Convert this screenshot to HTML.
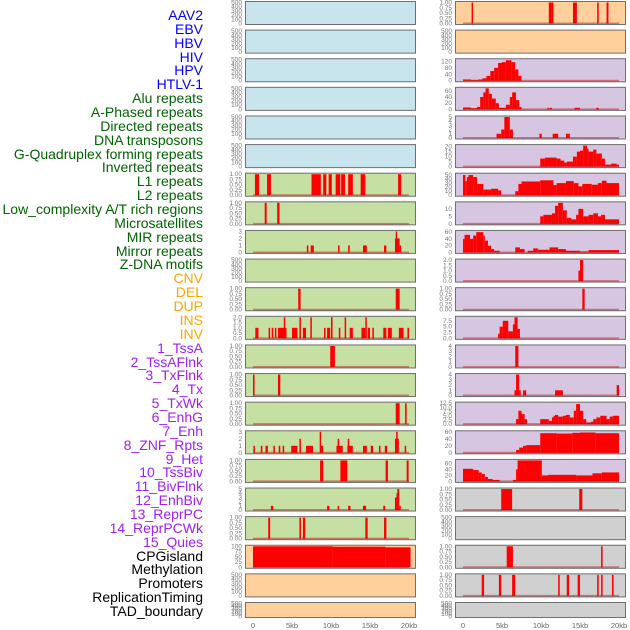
<!DOCTYPE html>
<html><head><meta charset="utf-8"><style>
html,body{margin:0;padding:0;background:#fff;width:630px;height:630px;overflow:hidden}
#labels div{position:absolute;right:427px;font-family:"Liberation Sans",sans-serif;font-size:14px;line-height:14px;white-space:nowrap}
svg{position:absolute;left:0;top:0}
</style></head><body>
<div id="labels"></div>
<svg id="chart" width="630" height="630"></svg>
<script>
const trackNames=["AAV2","EBV","HBV","HIV","HPV","HTLV-1","Alu repeats","A-Phased repeats","Directed repeats","DNA transposons","G-Quadruplex forming repeats","Inverted repeats","L1 repeats","L2 repeats","Low_complexity A/T rich regions","Microsatellites","MIR repeats","Mirror repeats","Z-DNA motifs","CNV","DEL","DUP","INS","INV","1_TssA","2_TssAFlnk","3_TxFlnk","4_Tx","5_TxWk","6_EnhG","7_Enh","8_ZNF_Rpts","9_Het","10_TssBiv","11_BivFlnk","12_EnhBiv","13_ReprPC","14_ReprPCWk","15_Quies","CPGisland","Methylation","Promoters","ReplicationTiming","TAD_boundary"];
const trackGroups=[6,13,5,15,5];
const groupColors=["#0000ff","#006400","#ffa500","#a020f0","#000000"];
const xTicks=["0","5kb","10kb","15kb","20kb"];
const xTickVals=[0,5,10,15,20];
const E5=["0","100","200","300","400","500"];
const P1=["0.00","0.25","0.50","0.75","1.00"];
const leftBg=["#c8e4ec","#c8e4ec","#c8e4ec","#c8e4ec","#c8e4ec","#c8e4ec","#c6e0a4","#c6e0a4","#c6e0a4","#c6e0a4","#c6e0a4","#c6e0a4","#c6e0a4","#c6e0a4","#c6e0a4","#c6e0a4","#c6e0a4","#c6e0a4","#c6e0a4","#ffd09c","#ffd09c","#ffd09c"];
const rightBg=["#ffd09c","#ffd09c","#d6c6e2","#d6c6e2","#d6c6e2","#d6c6e2","#d6c6e2","#d6c6e2","#d6c6e2","#d6c6e2","#d6c6e2","#d6c6e2","#d6c6e2","#d6c6e2","#d6c6e2","#d6c6e2","#d6c6e2","#d0d0d0","#d0d0d0","#d0d0d0","#d0d0d0","#d0d0d0"];
const leftMax=[500,500,500,500,500,500,1,1,3,500,1,2,1,1,1,3,1,5,1,100,500,500];
const rightMax=[1,500,130,68,5,21,52,14,62,2,1,9,4,4,12.5,60,70,1,500,1,1,500];
const leftTicks=[E5,E5,E5,E5,E5,E5,P1,P1,["0","1","2","3"],E5,P1,["0.0","0.5","1.0","1.5","2.0"],P1,P1,P1,["0","1","2","3"],P1,["0","1","2","3","4","5"],P1,["0","25","50","75","100"],E5,E5];
const rightTicks=[P1,E5,["0","40","80","120"],["0","20","40","60"],["0","1","2","3","4","5"],["0","5","10","15","20"],["0","10","20","30","40","50"],["0","5","10"],["0","20","40","60"],["0.0","0.5","1.0","1.5","2.0"],P1,["0.0","2.5","5.0","7.5"],["0","1","2","3","4"],["0","1","2","3","4"],["0.0","2.5","5.0","7.5","10.0","12.5"],["0","20","40","60"],["0","20","40","60"],P1,E5,P1,P1,E5];
const leftBars=[null,null,null,null,null,null,
[[0.25,0.77,1],[1.8,2.3,1],[7.5,8.7,1],[9,9.4,1],[9.7,10.1,1],[10.6,11.2,1],[11.3,11.8,1],[12.2,12.8,1],[13.8,14.4,1],[18.6,19,1]],
[[1.5,1.75,1],[3.1,3.4,1]],
[[6.9,7.1,1],[7.4,7.8,1],[10.9,11.1,1],[12.2,12.4,1],[14.1,14.6,1],[16.8,17.1,1],[18.2,18.8,2],[18.3,18.45,3],[18.8,18.95,1]],
null,
[[5.8,6.1,1],[18.3,18.8,1]],
[[0.3,0.7,1],[2.0,2.2,1],[2.4,2.6,1],[2.8,3.0,1],[3.2,4.3,1],[3.95,4.1,2],[5.0,5.7,1],[5.95,6.1,2],[6.4,6.8,1],[7.35,7.5,2],[9.1,9.3,1],[9.5,9.9,1],[10.0,10.2,2],[11.0,11.2,1],[11.75,11.9,2],[12.4,12.8,1],[13.9,14.4,1],[14.4,14.55,2],[14.7,15,1],[15.3,15.5,1],[16.7,17.1,1],[17.3,17.8,1],[18.7,19.3,1],[19.8,20,1]],
[[9.9,10.5,1]],
[[0,0.2,1],[3.2,3.5,1]],
[[18.3,18.8,1],[19.5,19.7,1]],
[[0.05,0.2,1],[1.0,1.2,1],[1.6,1.9,1],[2.6,2.8,1],[3.3,3.5,1],[3.8,4.0,1],[4.9,5.7,1],[5.95,6.1,2],[6.8,7.7,1],[8.55,8.7,3],[8.7,9.0,1],[10.7,11.5,1],[10.85,11.0,2],[12.1,12.8,1],[12.15,12.3,2],[14.1,14.6,1],[15.1,15.4,1],[16.15,16.3,1],[16.9,17.2,1],[18.2,18.7,2],[18.35,18.55,3],[19.45,19.6,1]],
[[8.6,9,1],[11.2,12.1,1],[17,17.3,1],[19.7,19.95,1]],
[[2.3,2.6,1],[9.5,9.8,1],[10.85,11.0,1],[12.2,12.5,1],[14.1,14.5,1],[16.7,16.95,1],[18.2,18.4,3],[18.4,18.5,4],[18.5,18.75,5],[18.75,18.9,1]],
[[1.95,2.2,1],[5.95,6.15,1],[6.4,6.7,1],[14.4,14.7,1],[16.8,17.1,1]],
[[0,10.2,100],[10.2,17,98],[17,20.2,95]],
null,null];
const rightBars=[
[[1.1,1.3,1],[11.0,11.4,1],[11.4,11.5,1],[14.1,14.6,1],[17.2,17.4,1],[18.4,18.65,1]],
null,
[[0,1,8],[1,2,5],[2,2.5,8],[2.5,3,15],[3,3.5,30],[3.5,4,60],[4,4.5,80],[4.5,5,110],[5,5.5,115],[5.5,6.2,127],[6.2,6.7,115],[6.7,7.1,70],[7.1,7.5,30]],
[[0,1,6],[1,1.8,4],[1.8,2.2,8],[2.2,2.6,40],[2.6,2.9,55],[2.9,3.3,68],[3.3,3.7,50],[3.7,4.2,35],[4.2,4.6,20],[4.6,5.5,5],[5.5,6,15],[6,6.3,40],[6.3,6.8,55],[6.8,7.2,30],[7.2,7.5,8],[10.8,11.0,5],[11.1,11.4,5],[14.3,15,5],[17.1,17.4,5]],
[[4.3,4.9,1],[4.9,5.3,2],[5.3,6.0,5],[6.0,6.4,2],[9.8,10.1,1],[11.5,12.2,1],[13.2,13.7,1]],
[[9.9,10.5,8],[10.5,12,9],[12,12.5,8],[12.5,13,6],[13,13.3,4],[13.3,14.1,5],[14.1,14.6,10],[14.6,15,15],[15,15.4,16],[15.4,15.9,21],[15.9,16.1,18],[16.1,16.7,15],[16.7,17.1,17],[17.1,17.8,13],[17.8,18.2,8],[18.2,19,2],[19,19.7,3],[19.7,20,2]],
[[0,0.3,50],[0.3,0.5,35],[0.5,0.7,45],[0.7,1.3,50],[1.3,1.8,45],[1.8,2.6,28],[2.6,3.6,14],[3.6,4.5,16],[4.5,4.9,12],[6.7,7.1,10],[7.1,7.5,28],[7.5,9.9,34],[9.9,11.6,37],[11.6,12,25],[12,13.2,30],[13.2,14.2,35],[14.2,14.8,30],[14.8,15.3,22],[15.3,16.5,28],[16.5,17.3,26],[17.3,17.8,30],[17.8,18.4,36],[18.4,20,30]],
[[9.9,10.3,5],[10.3,11.4,6],[11.4,11.8,7],[11.8,12.2,12],[12.2,12.8,14],[12.8,13.3,9],[13.3,13.9,4],[13.9,14.5,3],[14.5,14.8,6],[14.8,15.4,10],[15.4,16.1,5],[16.1,16.7,6],[16.7,17.3,7],[17.3,17.7,5],[17.7,18.2,6],[18.2,20,3]],
[[0,0.2,40],[0.2,0.9,52],[0.9,1.3,40],[1.3,1.7,50],[1.7,2.6,60],[2.6,2.8,50],[2.8,3.2,35],[3.2,3.6,20],[3.6,4.0,10],[4.0,4.7,5],[6.7,7.3,15],[7.3,7.9,10],[8.3,9,5],[9,9.6,12],[9.6,11.1,8],[11.1,12.2,15],[12.2,13.2,10],[13.2,15,5],[15,16.1,3],[16.1,20,7]],
[[14.8,15.0,1],[15.0,15.4,2]],
[[15.3,15.6,1]],
[[4.5,4.7,2],[4.7,5.1,5],[5.1,5.8,7.5],[5.8,6.4,3],[6.4,6.6,6],[6.6,7.0,9],[7.0,7.3,4]],
[[6.7,7.1,4]],
[[6.6,6.8,1],[6.8,7.2,4],[7.2,7.4,1],[7.7,8.1,1],[11.8,12.8,1],[19.7,20,2]],
[[6.8,7.1,3],[7.1,7.5,8],[7.5,7.9,6],[7.9,8.2,3],[9.9,11,3],[11,11.4,2],[11.4,11.6,4],[11.6,11.8,5],[11.8,12.2,5.5],[12.2,12.8,4.5],[12.8,13.2,5],[13.2,13.7,5.5],[13.7,14.2,4],[14.2,14.5,8],[14.5,15,12],[15,15.4,8],[15.4,15.8,3],[15.8,16.4,1],[16.4,16.7,1.5],[16.7,17.1,3],[17.1,17.6,4],[17.6,18.4,5],[18.4,18.8,3],[18.8,19.2,4.5],[19.2,20,5]],
[[6.8,7.2,8],[7.2,7.7,15],[7.7,8.1,20],[8.1,9.9,22],[9.9,12,56],[12,14,55],[14,15,57],[15,17,58],[17,20,56]],
[[0,1.3,42],[1.3,2,38],[2,2.4,30],[2.4,2.8,25],[2.8,3.2,15],[3.2,3.8,8],[3.8,4.7,5],[6.4,6.8,5],[6.8,7.0,40],[7.0,10.1,70],[10.1,10.9,20],[10.9,14.5,22],[14.5,16.6,20],[16.6,17.8,27],[17.8,20,30]],
[[4.9,6.3,1],[14.9,15.3,1]],
null,
[[5.6,6.4,1],[17.7,17.9,1]],
[[2.4,2.7,1],[4.6,4.9,1],[6.3,6.7,1],[12.2,12.4,1],[13.3,13.6,1],[14.7,15.0,1],[17.2,17.4,1],[17.7,17.9,1],[19.1,19.3,1]],
null];

const NS="http://www.w3.org/2000/svg";
const svg=document.getElementById('chart');
function mk(tag,attrs,parent){const e=document.createElementNS(NS,tag);for(const k in attrs)e.setAttribute(k,attrs[k]);(parent||svg).appendChild(e);return e;}
// labels
const lab=document.getElementById('labels');
let gi=0,gc=0;
trackNames.forEach((n,i)=>{
  const d=document.createElement('div');
  
  
  d.textContent=n;d.style.top=(8+i*13.86)+'px';
  d.style.color=groupColors[gi];lab.appendChild(d);
  gc++;if(gc>=trackGroups[gi]){gi++;gc=0;}
});
function rowTop(i){return 1+i*28.62;}
function rowH(i){return i===21?16:24;}
function drawPanel(col,i,bg,max,ticks,bars){
  const px=col===0?245:455,pw=171,x0=col===0?253:463;
  const top=rowTop(i),h=rowH(i),bot=top+h;
  const g=mk('g',{});
  
  
  mk('rect',{x:px,y:top,width:pw,height:h,fill:bg},g);
  const yS=v=>(bot-1.5)-(v/max)*(h-3);
  const xS=k=>x0+k*7.8;
  ticks.forEach(t=>{
    const tt=mk('text',{x:px-3,y:yS(parseFloat(t))+2,'font-size':'6.5','text-anchor':'end',fill:'#777','font-family':'Liberation Sans, sans-serif'},g);
    
    
    tt.textContent=t;
  });
  if(bars){
    bars.forEach(b=>{
      const x1=xS(b[0]),x2=xS(b[1]);
      const r=mk('rect',{x:x1,y:yS(b[2]),width:Math.max(1.5,x2-x1),height:Math.max(0,(bot-1.5)-yS(b[2])),fill:'#ff0000'},g);
      
      
    });
    mk('line',{x1:xS(0),x2:xS(20),y1:bot-1.5,y2:bot-1.5,stroke:'rgba(200,0,0,0.45)','stroke-width':2},g);
  }
  mk('rect',{x:px+0.5,y:top+0.5,width:pw-1,height:h-1,fill:'none',stroke:'#707070','stroke-width':1},g);
}
for(let i=0;i<22;i++){
  drawPanel(0,i,leftBg[i],leftMax[i],leftTicks[i],leftBars[i]);
  drawPanel(1,i,rightBg[i],rightMax[i],rightTicks[i],rightBars[i]);
}
[253,463].forEach(x0=>{
  xTickVals.forEach((v,j)=>{
    const t=mk('text',{x:x0+v*7.8,y:628,'font-size':'7.5','text-anchor':'middle',fill:'#666','font-family':'Liberation Sans, sans-serif'});
    
    
    t.textContent=xTicks[j];
  });
});
</script>
</body></html>
